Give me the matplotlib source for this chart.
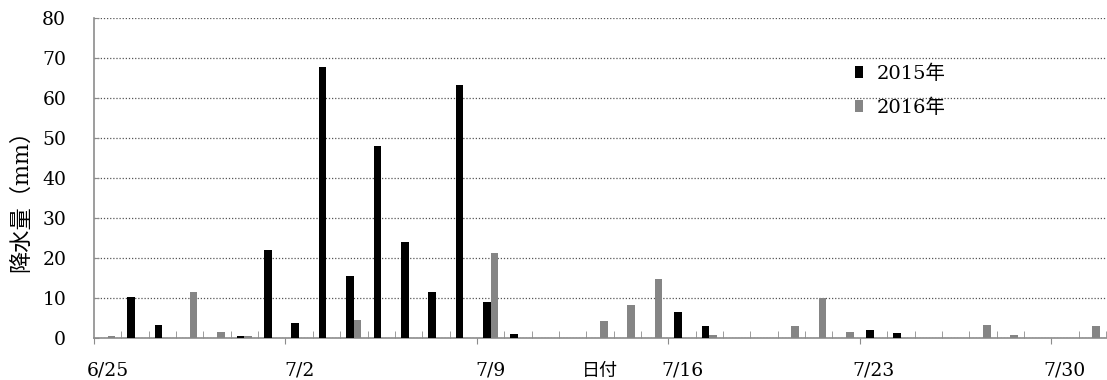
import numpy as np
import matplotlib.pyplot as plt
import matplotlib.transforms as mtransforms

plt.rcParams['font.family'] = ['DejaVu Serif', 'Noto Sans CJK JP']

# daily rainfall (mm), one value per day from 6/25 to 7/31
rain_2015 = [0, 10.2, 3.3, 0, 0, 0.5, 22.0, 3.7, 67.8, 15.5, 48.0, 24.0, 11.5, 63.3,
             9.0, 1.1, 0, 0, 0, 0, 0, 6.4, 2.9, 0, 0, 0, 0, 0, 2.0, 1.2,
             0, 0, 0, 0, 0, 0, 0]
rain_2016 = [0.6, 0, 0, 11.6, 1.5, 0.5, 0, 0, 0, 4.6, 0, 0, 0, 0,
             21.2, 0, 0, 0, 4.2, 8.2, 14.7, 0, 0.7, 0, 0, 2.9, 9.9, 1.5, 0, 0,
             0, 0, 3.3, 0.7, 0, 0, 2.9]
week_labels = ['6/25', '7/2', '7/9', '7/16', '7/23', '7/30']
series_names = ['2015年', '2016年']

c15 = '#000000'
c16 = '#858585'
axis_col = '#8c8c8c'

fig = plt.figure(figsize=(11.07, 3.8), dpi=100)
ax = fig.add_axes([94/1107, 42/380, 1012/1107, 320/380])

n = len(rain_2015)
x = np.arange(n) + 0.5
w = 0.28
b1 = ax.bar(x - w/2, rain_2015, width=w, color=c15, zorder=3)
b2 = ax.bar(x + w/2, rain_2016, width=w, color=c16, zorder=3)

ax.set_xlim(0, n)
ax.set_ylim(0, 80)
ax.set_yticks(np.arange(0, 81, 10))
ax.grid(axis='y', linestyle=(0, (1, 1.5)), color='#555555', linewidth=0.9, zorder=0)

ax.set_xticks(np.arange(0, n, 7))
ax.set_xticklabels(week_labels)
ax.set_xticks(np.arange(0, n + 1), minor=True)
ax.tick_params(axis='x', which='major', direction='out', length=4.5, color=axis_col,
               labelsize=13.5, pad=12.5)
ax.tick_params(axis='x', which='minor', direction='in', length=4.8, color=axis_col)
ax.tick_params(axis='y', which='major', direction='in', length=3.6, color=axis_col,
               labelsize=13.5, pad=20)

# labels sit in the middle of the first day of each week
offset = mtransforms.ScaledTranslation(13.7/100, 0, fig.dpi_scale_trans)
for lab in ax.get_xticklabels():
    lab.set_transform(lab.get_transform() + offset)

for s in ['top', 'right']:
    ax.spines[s].set_visible(False)
for s in ['left', 'bottom']:
    ax.spines[s].set_color(axis_col)
    ax.spines[s].set_linewidth(1.2)

ax.set_ylabel('降水量（mm）', fontsize=16)
ax.yaxis.set_label_coords(-0.061, 0.445)
ax.set_xlabel('日付', fontsize=13)
ax.xaxis.set_label_coords(0.5, -0.075)

ax.legend([b1, b2], series_names, loc='upper left', bbox_to_anchor=(0.752, 0.855),
          frameon=False, fontsize=14, handlelength=0.4, handleheight=0.6,
          handletextpad=0.7, labelspacing=0.8, borderpad=0, borderaxespad=0)

fig.savefig('out.png', dpi=100)
